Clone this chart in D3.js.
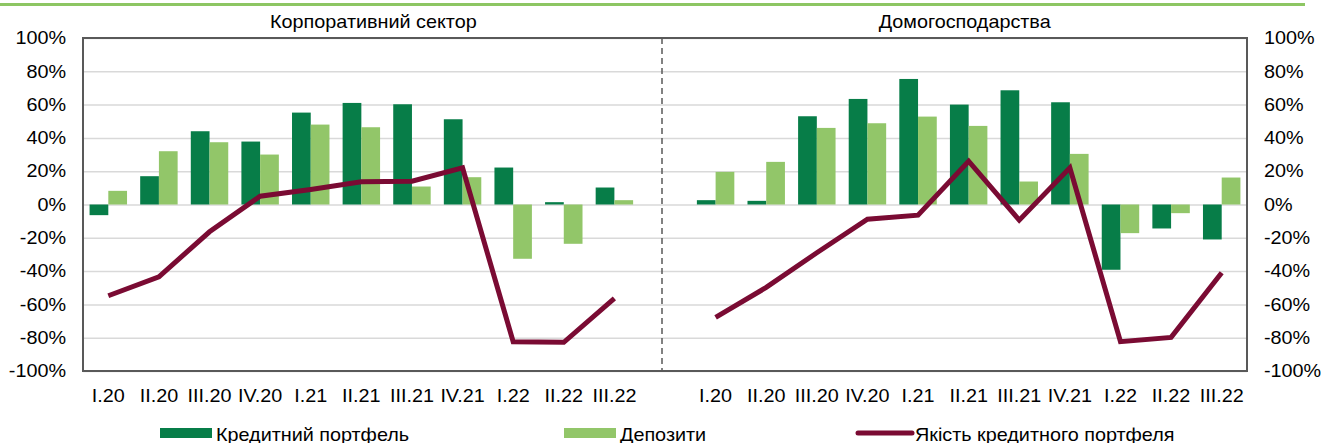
<!DOCTYPE html>
<html>
<head>
<meta charset="utf-8">
<script src="https://cdn.jsdelivr.net/npm/d3@7"></script>
<style>
  body { margin: 0; background: #fff; }
  svg text { font-family: 'Liberation Sans', Arial, sans-serif; fill: #000; }
</style>
</head>
<body>
<div class="chart"></div>
<script>
// Quarters (same for both panels)
const quarters = ['I.20', 'II.20', 'III.20', 'IV.20', 'I.21', 'II.21', 'III.21', 'IV.21', 'I.22', 'II.22', 'III.22'];
const panelTitles = ['Корпоративний сектор', 'Домогосподарства'];
const yTicks = [-100, -80, -60, -40, -20, 0, 20, 40, 60, 80, 100];

// Corporate sector
const corpLoans = [-6.4, 17, 44, 37.8, 55.2, 61, 60.2, 51.2, 22.2, 1.4, 10.2];
const corpDeposits = [8.2, 32, 37.4, 30, 48, 46.4, 10.8, 16.4, -32.6, -23.6, 2.6];
const corpQuality = [-54.8, -43.4, -16.4, 5, 9, 13.6, 14, 22, -82.4, -82.8, -56.4];

// Households
const hhLoans = [2.6, 2.2, 53, 63.4, 75.4, 60, 68.6, 61.4, -39.2, -14.4, -21];
const hhDeposits = [19.6, 25.6, 46, 48.8, 52.8, 47.2, 13.8, 30.4, -17.2, -5.2, 16.2];
const hhQuality = [-67.8, -49.8, -29, -8.8, -6.4, 26, -9.4, 22, -82.4, -79.8, -41];

const legendNames = ['Кредитний портфель', 'Депозити', 'Якість кредитного портфеля'];

const colors = { loans: '#077d48', deposits: '#92c669', quality: '#7a0b33' };

const svgWidth = 1323;
const svgHeight = 443;
const plot = { left: 83, right: 1247, top: 38, bottom: 371 };
const fontSize = '18px';
// the original text is a bit wider than Liberation Sans
const sx = 1.1;

const svg = d3
  .select('.chart')
  .append('svg')
  .attr('width', svgWidth)
  .attr('height', svgHeight);

// place a stretched text at (px, py)
function addText(parent, px, py, str, anchor) {
  return parent.append('text')
    .attr('transform', `translate(${px},${py}) scale(${sx},1)`)
    .attr('text-anchor', anchor || 'start')
    .attr('font-size', fontSize)
    .text(str);
}

// Top green rule of the page
svg.append('line')
  .attr('x1', 0).attr('x2', 1305)
  .attr('y1', 4.5).attr('y2', 4.5)
  .attr('stroke', '#8dc663')
  .attr('stroke-width', 3);

// 11 corporate + 1 gap + 11 household slots
const slots = d3.range(quarters.length * 2 + 1);
const x = d3
  .scaleBand()
  .domain(slots)
  .range([plot.left, plot.right])
  .paddingInner(0.26)
  .paddingOuter(0.13);

const x1 = d3.scaleBand().domain(['loans', 'deposits']).range([0, x.bandwidth()]);

const y = d3.scaleLinear().domain([-100, 100]).range([plot.bottom, plot.top]);

// Gridlines
svg.append('g')
  .attr('class', 'grid')
  .attr('transform', `translate(${plot.left},0)`)
  .call(d3.axisLeft(y).tickValues(yTicks).tickSize(-(plot.right - plot.left)).tickFormat(''))
  .call((g) => g.select('.domain').remove())
  .call((g) => g.selectAll('line').attr('stroke', '#d9d9d9').attr('stroke-width', 1.5));

// Panels
const panels = [
  { offset: 0, loans: corpLoans, deposits: corpDeposits, quality: corpQuality },
  { offset: quarters.length + 1, loans: hhLoans, deposits: hhDeposits, quality: hhQuality },
];

panels.forEach((p, pi) => {
  const rows = quarters.map((q, i) => ({
    slot: p.offset + i,
    loans: p.loans[i],
    deposits: p.deposits[i],
    quality: p.quality[i],
  }));

  const groups = svg.append('g')
    .selectAll('g')
    .data(rows)
    .enter()
    .append('g')
    .attr('transform', (d) => `translate(${x(d.slot)},0)`);

  groups.selectAll('rect')
    .data((d) => ['loans', 'deposits'].map((k) => ({ key: k, value: d[k] })))
    .enter()
    .append('rect')
    .attr('x', (d) => x1(d.key))
    .attr('width', x1.bandwidth())
    .attr('y', (d) => y(Math.max(0, d.value)))
    .attr('height', (d) => Math.abs(y(d.value) - y(0)))
    .attr('fill', (d) => colors[d.key]);

  const line = d3.line()
    .x((d) => x(d.slot) + x.bandwidth() / 2)
    .y((d) => y(d.quality));

  svg.append('path')
    .datum(rows)
    .attr('d', line)
    .attr('fill', 'none')
    .attr('stroke', colors.quality)
    .attr('stroke-width', 5)
    .attr('stroke-linejoin', 'miter');

  // x labels
  const labels = svg.append('g');
  rows.forEach((d, i) => {
    addText(labels, x(d.slot) + x.bandwidth() / 2, 402, quarters[i], 'middle');
  });

  // panel title
  const first = x(p.offset);
  const last = x(p.offset + quarters.length - 1) + x.bandwidth();
  addText(svg, (first + last) / 2 + (pi === 0 ? 12 : -4), 28, panelTitles[pi], 'middle');
});

// Dashed separator in the gap slot
const gapX = x(quarters.length) + x.bandwidth() / 2 - 3;
svg.append('line')
  .attr('x1', gapX).attr('x2', gapX)
  .attr('y1', plot.top).attr('y2', plot.bottom)
  .attr('stroke', '#595959')
  .attr('stroke-width', 1.5)
  .attr('stroke-dasharray', '6,4');

// Frame
svg.append('rect')
  .attr('x', plot.left).attr('y', plot.top)
  .attr('width', plot.right - plot.left)
  .attr('height', plot.bottom - plot.top)
  .attr('fill', 'none')
  .attr('stroke', '#595959')
  .attr('stroke-width', 2);

// Y axes on both sides
const leftAxis = d3.axisLeft(y).tickValues(yTicks).tickSize(0).tickPadding(17 / sx).tickFormat((d) => d + '%');
const rightAxis = d3.axisRight(y).tickValues(yTicks).tickSize(0).tickPadding(17 / sx).tickFormat((d) => d + '%');

[[leftAxis, plot.left], [rightAxis, plot.right]].forEach(([axis, pos]) => {
  svg.append('g')
    .attr('transform', `translate(${pos},0)`)
    .call(axis)
    .call((g) => g.select('.domain').remove())
    .call((g) => g.selectAll('text')
      .attr('font-size', fontSize)
      .attr('font-family', null)
      .attr('fill', '#000')
      .attr('transform', `scale(${sx},1)`));
});

// Legend
const legendItems = [
  { name: legendNames[0], type: 'rect', color: colors.loans, x: 160 },
  { name: legendNames[1], type: 'rect', color: colors.deposits, x: 564 },
  { name: legendNames[2], type: 'line', color: colors.quality, x: 858 },
];

const legend = svg.append('g');
legendItems.forEach((item) => {
  if (item.type === 'rect') {
    legend.append('rect')
      .attr('x', item.x).attr('y', 428)
      .attr('width', 52).attr('height', 10)
      .attr('fill', item.color);
  } else {
    legend.append('line')
      .attr('x1', item.x).attr('x2', item.x + 54)
      .attr('y1', 433).attr('y2', 433)
      .attr('stroke', item.color)
      .attr('stroke-width', 5)
      .attr('stroke-linecap', 'round');
  }
  addText(legend, item.x + (item.type === 'rect' ? 56 : 57), 441, item.name);
});
</script>
</body>
</html>
